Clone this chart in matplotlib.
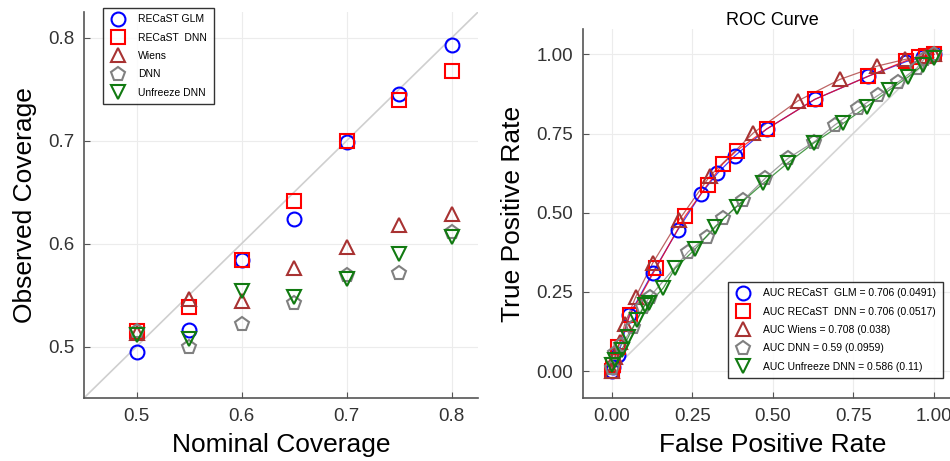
import numpy as np
import matplotlib
matplotlib.use('Agg')
import matplotlib.pyplot as plt

plt.rcParams['font.family'] = ['Liberation Sans', 'DejaVu Sans']

# coverage panel
nominal = [0.5, 0.55, 0.6, 0.65, 0.7, 0.75, 0.8]
cov_glm = [0.495, 0.516, 0.584, 0.624, 0.699, 0.745, 0.793]
cov_dnn_recast = [0.515, 0.538, 0.584, 0.641, 0.700, 0.740, 0.768]
cov_wiens = [0.513, 0.546, 0.544, 0.576, 0.597, 0.618, 0.629]
cov_dnn = [0.515, 0.500, 0.522, 0.542, 0.570, 0.571, 0.611]
cov_unfreeze = [0.511, 0.507, 0.554, 0.548, 0.566, 0.590, 0.606]

# ROC panel
fpr_glm = [0.0, 0.005, 0.02, 0.055, 0.127, 0.205, 0.277, 0.328, 0.383, 0.481, 0.631, 0.797, 0.914, 0.968, 1.0]
tpr_glm = [0.0, 0.012, 0.05, 0.177, 0.31, 0.445, 0.559, 0.624, 0.68, 0.764, 0.858, 0.931, 0.977, 0.992, 1.0]
fpr_dnn_recast = [0.0, 0.005, 0.02, 0.057, 0.137, 0.228, 0.298, 0.345, 0.388, 0.481, 0.631, 0.797, 0.914, 0.953, 0.975, 1.0]
tpr_dnn_recast = [0.0, 0.02, 0.077, 0.177, 0.324, 0.489, 0.589, 0.654, 0.696, 0.764, 0.858, 0.931, 0.98, 0.992, 0.995, 1.0]
fpr_wiens = [0.0, 0.01, 0.026, 0.041, 0.075, 0.127, 0.209, 0.305, 0.44, 0.578, 0.709, 0.825, 0.911, 0.975, 1.0]
tpr_wiens = [0.0, 0.045, 0.093, 0.15, 0.235, 0.34, 0.477, 0.616, 0.752, 0.853, 0.921, 0.963, 0.984, 0.996, 1.0]
fpr_dnn = [0.0, 0.01, 0.03, 0.067, 0.098, 0.119, 0.238, 0.295, 0.347, 0.409, 0.476, 0.548, 0.629, 0.693, 0.766, 0.828, 0.89, 0.947, 0.97, 1.0]
tpr_dnn = [0.01, 0.056, 0.082, 0.14, 0.203, 0.235, 0.377, 0.424, 0.482, 0.54, 0.608, 0.672, 0.724, 0.777, 0.83, 0.871, 0.913, 0.956, 0.985, 1.0]
fpr_unfreeze = [0.0, 0.01, 0.031, 0.052, 0.078, 0.103, 0.117, 0.16, 0.197, 0.259, 0.321, 0.388, 0.471, 0.548, 0.629, 0.719, 0.792, 0.862, 0.921, 0.966, 1.0]
tpr_unfreeze = [0.019, 0.035, 0.066, 0.108, 0.161, 0.208, 0.214, 0.262, 0.324, 0.385, 0.456, 0.519, 0.593, 0.658, 0.721, 0.782, 0.835, 0.887, 0.929, 0.966, 0.99]

cov_labels = ['RECaST GLM', 'RECaST  DNN', 'Wiens', 'DNN', 'Unfreeze DNN']
roc_labels = ['AUC RECaST  GLM = 0.706 (0.0491)', 'AUC RECaST  DNN = 0.706 (0.0517)',
              'AUC Wiens = 0.708 (0.038)', 'AUC DNN = 0.59 (0.0959)',
              'AUC Unfreeze DNN = 0.586 (0.11)']
colors = ['#0000ff', '#ff0000', '#a83232', '#808080', '#117a11']
markers = ['o', 's', '^', 'p', 'v']


def style_axes(ax):
    for s in ['top', 'right']:
        ax.spines[s].set_visible(False)
    for s in ['left', 'bottom']:
        ax.spines[s].set_color('#555555')
        ax.spines[s].set_linewidth(1.2)
    ax.grid(True, color='#ececec', lw=0.8)
    ax.set_axisbelow(True)
    ax.tick_params(direction='in', length=4, color='#555555', labelsize=13.5,
                   labelcolor='#333333', pad=7)


def add_legend(ax, x0, y0):
    leg = ax.legend(loc='upper left', bbox_to_anchor=(x0 / 950, 1 - y0 / 461),
                    bbox_transform=fig.transFigure, fontsize=7.5, frameon=True,
                    fancybox=False, edgecolor='black', labelspacing=0.8,
                    handlelength=1.6, handletextpad=1.2, borderpad=0.6,
                    borderaxespad=0, markerscale=1.0)
    leg.get_frame().set_linewidth(1.0)
    return leg


fig = plt.figure(figsize=(9.5, 4.61), dpi=100)

ax1 = fig.add_axes([0.0884, 0.1367, 0.4147, 0.837])
style_axes(ax1)
ax1.plot([0.45, 0.825], [0.45, 0.825], color='#cfcfcf', lw=1.2, zorder=1)
cov_series = [cov_glm, cov_dnn_recast, cov_wiens, cov_dnn, cov_unfreeze]
for vals, c, m, lab in zip(cov_series, colors, markers, cov_labels):
    ax1.plot(nominal, vals, ls='none', marker=m, mfc='none', mec=c, mew=1.5,
             ms=10, label=lab, zorder=3)
ax1.set_xlim(0.45, 0.825)
ax1.set_ylim(0.45, 0.825)
ax1.set_xticks([0.5, 0.6, 0.7, 0.8])
ax1.set_yticks([0.5, 0.6, 0.7, 0.8])
ax1.set_xlabel('Nominal Coverage', fontsize=19, labelpad=6)
ax1.set_ylabel('Observed Coverage', fontsize=19, labelpad=8)
add_legend(ax1, 103, 8)

ax2 = fig.add_axes([0.6137, 0.1367, 0.399, 0.8004])
style_axes(ax2)
ax2.plot([0, 1], [0, 1], color='#d5d5d5', lw=1.2, zorder=1)
roc_series = [(fpr_glm, tpr_glm), (fpr_dnn_recast, tpr_dnn_recast),
              (fpr_wiens, tpr_wiens), (fpr_dnn, tpr_dnn),
              (fpr_unfreeze, tpr_unfreeze)]
for (fx, ty), c, m, lab in zip(roc_series, colors, markers, roc_labels):
    ax2.plot(fx, ty, color=c, lw=0.9, alpha=0.75, zorder=2)
    ax2.plot(fx, ty, ls='none', marker=m, mfc='none', mec=c, mew=1.5,
             ms=10, label=lab, zorder=3)
ax2.set_xlim(-0.089, 1.088)
ax2.set_ylim(-0.085, 1.08)
ticks = [0.0, 0.25, 0.5, 0.75, 1.0]
ax2.set_xticks(ticks)
ax2.set_yticks(ticks)
ax2.set_xticklabels(['0.00', '0.25', '0.50', '0.75', '1.00'])
ax2.set_yticklabels(['0.00', '0.25', '0.50', '0.75', '1.00'])
ax2.set_title('ROC Curve', fontsize=13, pad=3)
ax2.set_xlabel('False Positive Rate', fontsize=19, labelpad=6)
ax2.set_ylabel('True Positive Rate', fontsize=19, labelpad=8)
add_legend(ax2, 728, 282)

fig.savefig('out.png', dpi=100)
